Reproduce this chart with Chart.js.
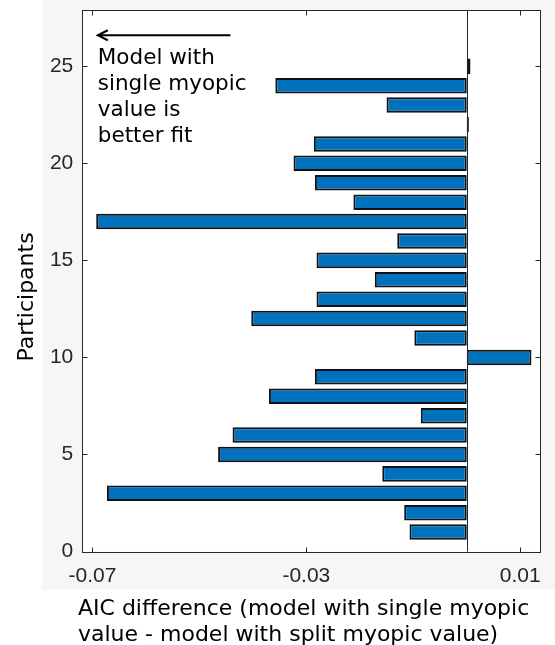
<!DOCTYPE html>
<html>
<head>
<meta charset="utf-8">
<script src="https://cdn.jsdelivr.net/npm/chart.js@4.4.1/dist/chart.umd.min.js"></script>
<style>
  html, body { margin: 0; padding: 0; background: #fff; }
  canvas { display: block; }
</style>
</head>
<body>
<canvas id="aicChart" width="555" height="645"></canvas>
<script>
// one bar per participant: AIC(single myopic) - AIC(split myopic)
const participants = [1, 2, 3, 4, 5, 6, 7, 8, 9, 10, 11, 12, 13,
                      14, 15, 16, 17, 18, 19, 20, 21, 22, 23, 24, 25];
const aicDiff = [-0.0107, -0.0117, -0.0673, -0.0158, -0.0465, -0.0438, -0.0086,
                 -0.0370, -0.0284, 0.0121, -0.0098, -0.0403, -0.0281, -0.0172,
                 -0.0281, -0.0130, -0.0693, -0.0212, -0.0284, -0.0324, -0.0286,
                 0.0004, -0.0150, -0.0358, 0.0007];
const xTickValues = [-0.07, -0.03, 0.01];
const yTickValues = [0, 5, 10, 15, 20, 25];
const xTitleLines = ['AIC difference (model with single myopic',
                     'value - model with split myopic value)'];
const yTitle = 'Participants';
const noteLines = ['Model with', 'single myopic', 'value is', 'better fit'];

const axisColor = '#262626';
const barColor = '#0072BD';
const textFont = '"DejaVu Sans", sans-serif';
const tickFont = '"Liberation Sans", Arial, sans-serif';

// axes box, zero line, inward ticks, titles and the arrow note
const frame = {
    id: 'frame',
    beforeDraw(chart) {
        const { ctx, chartArea: a } = chart;
        ctx.save();
        ctx.fillStyle = '#f6f6f6';
        ctx.fillRect(42, 0, chart.width - 42, 590);
        ctx.fillStyle = '#ffffff';
        ctx.fillRect(a.left, a.top, a.right - a.left, a.bottom - a.top);
        ctx.restore();
    },
    afterDatasetsDraw(chart) {
        const { ctx, chartArea: a, scales: { x, y } } = chart;
        ctx.save();
        ctx.strokeStyle = axisColor;
        ctx.lineWidth = 1;

        const x0 = Math.round(x.getPixelForValue(0)) + 0.5;
        ctx.beginPath();
        ctx.moveTo(x0, a.top);
        ctx.lineTo(x0, a.bottom);
        ctx.stroke();

        const l = Math.round(a.left) + 0.5, r = Math.round(a.right) + 0.5;
        const t = Math.round(a.top) + 0.5, b = Math.round(a.bottom) + 0.5;
        ctx.strokeRect(l, t, r - l, b - t);

        const len = 5;
        ctx.beginPath();
        xTickValues.forEach(v => {
            const px = Math.round(x.getPixelForValue(v)) + 0.5;
            ctx.moveTo(px, b); ctx.lineTo(px, b - len);
            ctx.moveTo(px, t); ctx.lineTo(px, t + len);
        });
        yTickValues.forEach(v => {
            const py = Math.round(y.getPixelForValue(v)) + 0.5;
            ctx.moveTo(l, py); ctx.lineTo(l + len, py);
            ctx.moveTo(r, py); ctx.lineTo(r - len, py);
        });
        ctx.stroke();
        ctx.restore();
    },
    afterDraw(chart) {
        const { ctx, scales: { x, y } } = chart;
        ctx.save();
        ctx.fillStyle = '#000';
        ctx.strokeStyle = '#000';
        ctx.textBaseline = 'alphabetic';

        // x title, two left-aligned lines
        ctx.font = '22px ' + textFont;
        ctx.textAlign = 'left';
        xTitleLines.forEach((line, i) => ctx.fillText(line, 78, 615 + i * 25.5));

        // y title
        ctx.save();
        ctx.translate(33, 297);
        ctx.rotate(-Math.PI / 2);
        ctx.textAlign = 'center';
        ctx.fillText(yTitle, 0, 0);
        ctx.restore();

        // arrow pointing towards negative differences
        const ay = y.getPixelForValue(26.6);
        const ax1 = x.getPixelForValue(-0.0442);
        const ax2 = x.getPixelForValue(-0.0690);
        ctx.lineWidth = 2;
        ctx.beginPath();
        ctx.moveTo(ax1, ay);
        ctx.lineTo(ax2 + 1, ay);
        ctx.moveTo(ax2 + 10, ay - 5);
        ctx.lineTo(ax2, ay);
        ctx.lineTo(ax2 + 10, ay + 5);
        ctx.stroke();

        ctx.font = '21.5px ' + textFont;
        const noteTop = y.getPixelForValue(25.1);
        noteLines.forEach((line, i) => ctx.fillText(line, ax2, noteTop + i * 26));
        ctx.restore();
    }
};

new Chart(document.getElementById('aicChart'), {
    type: 'bar',
    data: {
        datasets: [{
            data: participants.map((p, i) => ({ x: aicDiff[i], y: p })),
            backgroundColor: barColor,
            borderColor: '#111111',
            borderWidth: 2,
            borderSkipped: false,
            barPercentage: 0.8,
            categoryPercentage: 1.0
        }]
    },
    options: {
        indexAxis: 'y',
        responsive: false,
        animation: false,
        layout: { padding: { top: 10, right: 15, left: 0, bottom: 0 } },
        plugins: {
            legend: { display: false },
            tooltip: { enabled: false }
        },
        scales: {
            x: {
                type: 'linear',
                min: -0.0719,
                max: 0.0137,
                afterBuildTicks: s => { s.ticks = xTickValues.map(v => ({ value: v })); },
                afterFit: s => {
                    s.height = 93.5;
                    s.paddingLeft = 0;
                    s.paddingRight = 0;
                },
                grid: { display: false, drawTicks: false },
                border: { display: false },
                ticks: {
                    padding: 12,
                    color: axisColor,
                    font: { family: tickFont, size: 21 },
                    maxRotation: 0,
                    callback: v => v.toFixed(2)
                }
            },
            y: {
                type: 'linear',
                offset: false,
                min: 0,
                max: 27.9,
                afterBuildTicks: s => { s.ticks = yTickValues.map(v => ({ value: v })); },
                afterFit: s => {
                    s.width = 82.3;
                    s.paddingTop = 0;
                    s.paddingBottom = 0;
                },
                grid: { display: false, drawTicks: false, offset: false },
                border: { display: false },
                ticks: {
                    padding: 9,
                    color: axisColor,
                    font: { family: tickFont, size: 21 },
                    callback: v => String(v)
                }
            }
        }
    },
    plugins: [frame]
});
</script>
</body>
</html>
